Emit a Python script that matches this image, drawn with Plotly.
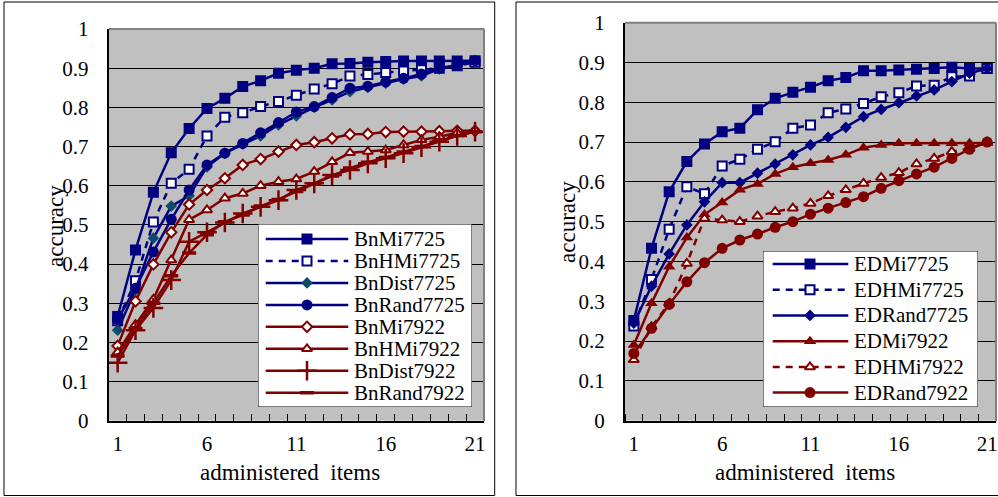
import plotly.graph_objects as go

W, H = 998, 497
FONT = "Liberation Serif, Times New Roman, serif"
NAVY = "#000080"
TEAL = "#0E4A6A"
MAROON = "#800000"
PLOT_BG = "#C0C0C0"

# ---------------- data ----------------
items = list(range(1, 22))
x_tick_labels = ["1", "6", "11", "16", "21"]

BnMi7725 = [0.266, 0.436, 0.583, 0.684, 0.746, 0.797, 0.823, 0.853, 0.868, 0.887, 0.895,
            0.900, 0.911, 0.912, 0.915, 0.917, 0.918, 0.918, 0.918, 0.918, 0.919]
BnHMi7725 = [0.255, 0.357, 0.507, 0.606, 0.642, 0.727, 0.775, 0.786, 0.802, 0.815, 0.831,
             0.847, 0.860, 0.880, 0.884, 0.889, 0.893, 0.896, 0.900, 0.906, 0.915]
BnDist7725 = [0.231, 0.334, 0.466, 0.548, 0.574, 0.648, 0.683, 0.706, 0.727, 0.755, 0.778,
              0.800, 0.819, 0.840, 0.851, 0.862, 0.872, 0.880, 0.898, 0.907, 0.918]
BnRand7725 = [0.259, 0.338, 0.431, 0.514, 0.589, 0.653, 0.683, 0.708, 0.735, 0.761, 0.788,
              0.802, 0.825, 0.849, 0.854, 0.865, 0.874, 0.885, 0.900, 0.908, 0.919]
BnMi7922 = [0.191, 0.305, 0.399, 0.481, 0.552, 0.589, 0.619, 0.653, 0.668, 0.687, 0.704,
            0.711, 0.721, 0.731, 0.732, 0.737, 0.738, 0.738, 0.739, 0.740, 0.740]
BnHMi7922 = [0.175, 0.245, 0.310, 0.410, 0.513, 0.538, 0.568, 0.580, 0.600, 0.610, 0.617,
             0.636, 0.661, 0.684, 0.687, 0.691, 0.704, 0.717, 0.725, 0.735, 0.742]
BnDist7922 = [0.148, 0.231, 0.288, 0.359, 0.457, 0.481, 0.506, 0.529, 0.546, 0.563, 0.589,
              0.606, 0.627, 0.640, 0.657, 0.670, 0.683, 0.698, 0.712, 0.727, 0.738]
BnRand7922 = [0.165, 0.235, 0.300, 0.370, 0.428, 0.475, 0.508, 0.525, 0.548, 0.565, 0.585,
              0.605, 0.625, 0.645, 0.660, 0.672, 0.686, 0.700, 0.714, 0.728, 0.738]

EDMi7725 = [0.252, 0.433, 0.575, 0.651, 0.695, 0.726, 0.735, 0.781, 0.810, 0.825, 0.838,
            0.854, 0.862, 0.879, 0.879, 0.881, 0.883, 0.885, 0.888, 0.885, 0.885]
EDHMi7725 = [0.238, 0.355, 0.481, 0.588, 0.570, 0.640, 0.657, 0.682, 0.701, 0.735, 0.743,
             0.774, 0.783, 0.797, 0.814, 0.824, 0.841, 0.843, 0.864, 0.866, 0.885]
EDRand7725 = [0.245, 0.338, 0.419, 0.492, 0.550, 0.598, 0.598, 0.622, 0.645, 0.668, 0.693,
              0.712, 0.737, 0.764, 0.782, 0.799, 0.816, 0.831, 0.852, 0.873, 0.885]
EDMi7922 = [0.190, 0.295, 0.387, 0.460, 0.518, 0.548, 0.580, 0.595, 0.620, 0.637, 0.647,
            0.655, 0.668, 0.686, 0.693, 0.697, 0.697, 0.697, 0.697, 0.697, 0.698]
EDHMi7922 = [0.153, 0.236, 0.295, 0.395, 0.508, 0.504, 0.500, 0.514, 0.525, 0.534, 0.546,
             0.565, 0.580, 0.596, 0.611, 0.623, 0.645, 0.659, 0.676, 0.684, 0.700]
EDRand7922 = [0.169, 0.232, 0.292, 0.349, 0.397, 0.433, 0.454, 0.469, 0.486, 0.500, 0.519,
              0.534, 0.548, 0.563, 0.584, 0.603, 0.620, 0.637, 0.659, 0.682, 0.700]

# ---------------- styles ----------------
def sty(color, symbol, size, mcolor=None, fill=None, dash="solid", mline=0, lw=2.5):
    mc = fill if fill is not None else (mcolor or color)
    return dict(line=dict(color=color, width=lw, dash=dash),
                marker=dict(symbol=symbol, size=size, color=mc,
                            line=dict(color=mcolor or color, width=mline)))

DASH = "7px,6px"
left_series = [
    ("BnMi7725", BnMi7725, sty(NAVY, "square", 11)),
    ("BnHMi7725", BnHMi7725, sty(NAVY, "square", 9, fill="white", dash=DASH, mline=2)),
    ("BnDist7725", BnDist7725, sty(NAVY, "diamond", 9, mcolor=TEAL)),
    ("BnRand7725", BnRand7725, sty(NAVY, "circle", 11)),
    ("BnMi7922", BnMi7922, sty(MAROON, "diamond", 8, fill="white", mline=2)),
    ("BnHMi7922", BnHMi7922, sty(MAROON, "triangle-up", 9, fill="white", mline=2)),
    ("BnDist7922", BnDist7922, sty(MAROON, "cross-thin", 14, mline=2.5)),
    ("BnRand7922", BnRand7922, sty(MAROON, "line-ew", 10, mline=3.5)),
]
right_series = [
    ("EDMi7725", EDMi7725, sty(NAVY, "square", 11)),
    ("EDHMi7725", EDHMi7725, sty(NAVY, "square", 9, fill="white", dash=DASH, mline=2)),
    ("EDRand7725", EDRand7725, sty(NAVY, "diamond", 9)),
    ("EDMi7922", EDMi7922, sty(MAROON, "triangle-up", 11)),
    ("EDHMi7922", EDHMi7922, sty(MAROON, "triangle-up", 9, fill="white", dash=DASH, mline=2)),
    ("EDRand7922", EDRand7922, sty(MAROON, "circle", 11)),
]

# ---------------- layout helpers (pixel -> paper) ----------------
def px(x):
    return x / W

def py(y):
    return 1 - y / H

fig = go.Figure()

# main traces
for (name, vals, s) in left_series:
    fig.add_trace(go.Scatter(x=items, y=vals, name=name, mode="lines+markers",
                             xaxis="x", yaxis="y", showlegend=False, **s))
for (name, vals, s) in right_series:
    fig.add_trace(go.Scatter(x=items, y=vals, name=name, mode="lines+markers",
                             xaxis="x2", yaxis="y2", showlegend=False, **s))

# legend panels drawn on auxiliary axes
annotations = []
def legend_block(series, xa, ya, line_x0, line_x1, mark_x, text_x):
    for k, (name, vals, s) in enumerate(series):
        fig.add_trace(go.Scatter(x=[line_x0, line_x1], y=[k, k], mode="lines",
                                 line=s["line"], xaxis=xa, yaxis=ya,
                                 showlegend=False, hoverinfo="skip"))
        fig.add_trace(go.Scatter(x=[mark_x], y=[k], mode="markers",
                                 marker=s["marker"], xaxis=xa, yaxis=ya,
                                 showlegend=False, hoverinfo="skip", cliponaxis=False))
        annotations.append(dict(x=text_x, y=k, xref=xa, yref=ya, text=name,
                                showarrow=False, xanchor="left", yanchor="middle",
                                font=dict(family=FONT, size=21, color="black")))

legend_block(left_series, "x3", "y3", 7.7, 90.3, 49, 93.5)
legend_block(right_series, "x4", "y4", 9.7, 85.3, 47, 89)

minor_vals = [i + 0.5 for i in range(0, 22)]

def xaxis_cfg(domain):
    return dict(domain=domain, range=[0.5, 21.5], tickmode="array",
                tickvals=[1, 6, 11, 16, 21], ticktext=x_tick_labels, ticks="",
                showgrid=False, zeroline=False, showline=True, linecolor="black",
                linewidth=2, ticklabelstandoff=3, automargin=False,
                tickfont=dict(family=FONT, size=21, color="black"),
                minor=dict(tickmode="array", tickvals=minor_vals, ticks="inside",
                           ticklen=7, tickcolor="black", tickwidth=1, showgrid=False),
                fixedrange=True)

def yaxis_cfg(domain, anchor):
    return dict(domain=domain, range=[0, 1], dtick=0.1, tick0=0, anchor=anchor,
                showgrid=True, gridcolor="black", gridwidth=1, zeroline=False,
                showline=True, linecolor="black", linewidth=2, ticks="inside",
                ticklen=6, tickcolor="black", ticklabelstandoff=14, automargin=False,
                tickfont=dict(family=FONT, size=21, color="black"), fixedrange=True)

L_X0, L_X1, L_YT = 108.7, 484, 29
R_X0, R_X1, R_YT = 625, 996, 22.7
Y_BOT = 420.7

aux = dict(visible=False, fixedrange=True, automargin=False)
LEG3_X, LEG3_Y = [0, 214], [7.65, -0.683]
LEG4_X, LEG4_Y = [0, 215], [5.56, -0.506]

fig.update_layout(
    template="none",
    width=W, height=H, margin=dict(l=0, r=0, t=0, b=0, pad=0, autoexpand=False),
    paper_bgcolor="white", plot_bgcolor=PLOT_BG, showlegend=False,
    xaxis=dict(**xaxis_cfg([px(L_X0), px(L_X1)]), anchor="y"),
    yaxis=yaxis_cfg([py(Y_BOT), py(L_YT)], "x"),
    xaxis2=dict(**xaxis_cfg([px(R_X0), px(R_X1)]), anchor="y2"),
    yaxis2=yaxis_cfg([py(Y_BOT), py(R_YT)], "x2"),
    xaxis3=dict(domain=[px(258), px(472)], range=LEG3_X, anchor="y3", **aux),
    yaxis3=dict(domain=[py(407), py(224)], range=LEG3_Y, anchor="x3", **aux),
    xaxis4=dict(domain=[px(763), px(978)], range=LEG4_X, anchor="y4", **aux),
    yaxis4=dict(domain=[py(407), py(251)], range=LEG4_Y, anchor="x4", **aux),
)

shapes = [
    # panel frames
    dict(type="rect", xref="paper", yref="paper", x0=px(4), x1=px(494.7),
         y0=py(495.5), y1=py(2), line=dict(color="black", width=1), layer="below"),
    dict(type="rect", xref="paper", yref="paper", x0=px(516), x1=1.05,
         y0=py(495.5), y1=py(2), line=dict(color="black", width=1), layer="below"),
    # grey top/right plot-area borders
    dict(type="line", xref="x domain", yref="y domain", x0=0, x1=1, y0=1, y1=1,
         line=dict(color="#808080", width=2)),
    dict(type="line", xref="x domain", yref="y domain", x0=1, x1=1, y0=0, y1=1,
         line=dict(color="#808080", width=2)),
    dict(type="line", xref="x2 domain", yref="y2 domain", x0=0, x1=1, y0=1, y1=1,
         line=dict(color="#808080", width=2)),
    dict(type="line", xref="x2 domain", yref="y2 domain", x0=1, x1=1, y0=0, y1=1,
         line=dict(color="#808080", width=2)),
    # legend boxes (between the main grid and the legend samples)
    dict(type="rect", xref="x3", yref="y3", x0=LEG3_X[0], x1=LEG3_X[1],
         y0=LEG3_Y[0], y1=LEG3_Y[1],
         fillcolor="white", line=dict(color="black", width=1), layer="between"),
    dict(type="rect", xref="x4", yref="y4", x0=LEG4_X[0], x1=LEG4_X[1],
         y0=LEG4_Y[0], y1=LEG4_Y[1],
         fillcolor="white", line=dict(color="black", width=1), layer="between"),
]

title_font = dict(family=FONT, size=23, color="black")
tkw = dict(xref="paper", yref="paper", showarrow=False, font=title_font,
           xanchor="center", yanchor="middle")
annotations += [
    dict(x=px(55), y=py(226), text="accuracy", textangle=-90, **tkw),
    dict(x=px(567), y=py(222), text="accuracy", textangle=-90, **tkw),
    dict(x=px(290), y=py(472), text="administered\u00a0 items", **tkw),
    dict(x=px(805), y=py(472), text="administered\u00a0 items", **tkw),
]

fig.update_layout(shapes=shapes, annotations=annotations)
fig.write_html("out.html")
